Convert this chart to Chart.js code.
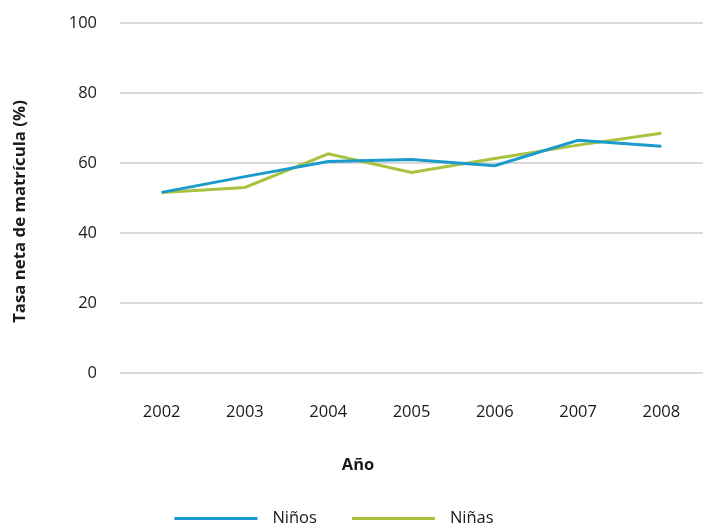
<!DOCTYPE html>
<html>
<head>
<meta charset="utf-8">
<script src="https://cdn.jsdelivr.net/npm/chart.js@4"></script>
<style>
  html, body { margin: 0; padding: 0; background: #fff; }
  #wrap { width: 703px; height: 527px; }
</style>
</head>
<body>
<div id="wrap"><canvas id="enrolChart"></canvas></div>
<script>
const years = ["2002", "2003", "2004", "2005", "2006", "2007", "2008"];
const ninos = [51.7, 56.2, 60.5, 61.1, 59.3, 66.6, 64.9];
const ninas = [51.7, 53.1, 62.7, 57.4, 61.4, 65.2, 68.6];
const yTicks = [0, 20, 40, 60, 80, 100];
const yTitle = "Tasa neta de matrícula (%)";
const xTitle = "Año";

document.addEventListener("DOMContentLoaded", function () {
    const ctx = document.getElementById("enrolChart").getContext("2d");
    const font = "'Open Sans', 'Noto Sans', sans-serif";
    const textColor = "#1a1a1a";

    // legend + axis titles drawn by hand (source puts them off-centre)
    const extras = {
        id: "extras",
        afterDraw(chart) {
            const c = chart.ctx;
            const sw = 83, gapText = 15, gapItem = 35;
            c.save();
            c.font = "16.5px " + font;
            c.textBaseline = "middle";
            const items = chart.data.datasets.map(ds => ({
                label: ds.label,
                color: ds.borderColor,
                w: sw + gapText + c.measureText(ds.label).width,
            }));
            const total = items.reduce((s, it) => s + it.w, 0) + gapItem * (items.length - 1);
            let x = 334 - total / 2;
            const y = 518.5;
            items.forEach(it => {
                c.fillStyle = it.color;
                c.fillRect(x, y - 1.5, sw, 3);
                c.fillStyle = textColor;
                c.fillText(it.label, x + sw + gapText, y);
                x += it.w + gapItem;
            });

            c.textAlign = "center";
            c.font = "bold 16.5px " + font;
            c.fillText(xTitle, 358, 465);

            c.translate(20.5, 211.5);
            c.rotate(-Math.PI / 2);
            c.font = "bold 16.8px " + font;
            c.fillText(yTitle, 0, 0);
            c.restore();
        },
    };

    // drop the automatic label-overflow padding so layout.padding decides the plot box
    const noAutoPad = function (scale) {
        scale.paddingTop = 0;
        scale.paddingBottom = 0;
        scale.paddingLeft = 0;
        scale.paddingRight = 0;
    };

    new Chart(ctx, {
        type: "line",
        data: {
            labels: years,
            datasets: [
                {
                    label: "Niños",
                    data: ninos,
                    borderColor: "#1b9bcb", // blue
                    borderWidth: 3,
                    pointRadius: 0,
                    tension: 0,
                },
                {
                    label: "Niñas",
                    data: ninas,
                    borderColor: "#a9c23f", // olive green
                    borderWidth: 3,
                    pointRadius: 0,
                    tension: 0,
                },
            ],
        },
        options: {
            responsive: true,
            maintainAspectRatio: false,
            animation: false,
            layout: {
                padding: { left: 45.7, right: -2, top: 23.3, bottom: 75.8 },
            },
            plugins: {
                legend: { display: false },
                tooltip: { enabled: false },
            },
            scales: {
                x: {
                    offset: true,
                    afterFit: noAutoPad,
                    grid: { display: false, drawTicks: false },
                    border: { display: false },
                    ticks: {
                        color: textColor,
                        font: { family: font, size: 16.5 },
                        padding: 29,
                    },
                },
                y: {
                    min: 0,
                    max: 100,
                    afterFit: noAutoPad,
                    afterBuildTicks: function (scale) {
                        scale.ticks = yTicks.map(v => ({ value: v }));
                    },
                    grid: { color: "#d9d9d9", lineWidth: 2, drawTicks: false },
                    border: { display: false },
                    ticks: {
                        color: textColor,
                        font: { family: font, size: 16.5 },
                        padding: 23,
                    },
                },
            },
        },
        plugins: [extras],
    });
});
</script>
</body>
</html>
